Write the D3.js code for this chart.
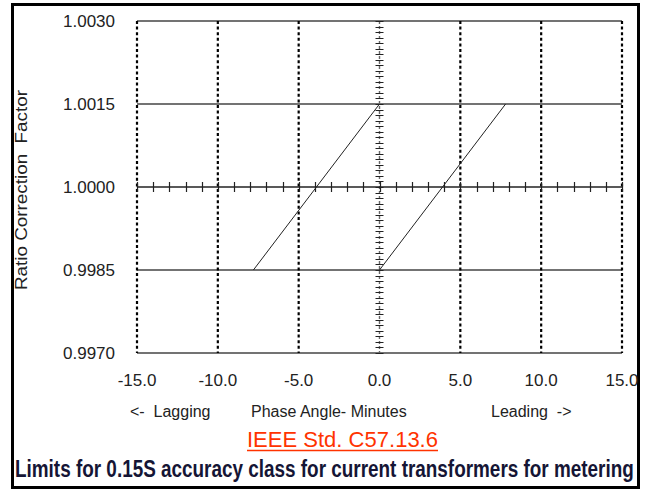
<!DOCTYPE html>
<html><head><meta charset="utf-8">
<script src="https://cdn.jsdelivr.net/npm/d3@7"></script>
<style>body{margin:0;background:#fff}svg{display:block}</style>
</head><body>
<svg id="c" width="647" height="490"></svg>
<script>
const xTickVals = [-15, -10, -5, 0, 5, 10, 15];
const xTickLabels = ["-15.0", "-10.0", "-5.0", "0.0", "5.0", "10.0", "15.0"];
const yTickVals = [0.9970, 0.9985, 1.0000, 1.0015, 1.0030];
const yTickLabels = ["0.9970", "0.9985", "1.0000", "1.0015", "1.0030"];
const limitLines = [
  [[-7.8, 0.9985], [0, 1.0015]],
  [[0, 0.9985], [7.8, 1.0015]]
];
const yTitle = "Ratio Correction  Factor";
const xLabels = ["<-  Lagging", "Phase Angle- Minutes", "Leading  ->"];
const subTitle = "IEEE Std. C57.13.6";
const title = "Limits for 0.15S accuracy class for current transformers for metering";

const svg = d3.select("#c");
const x = d3.scaleLinear().domain([-15, 15]).range([137, 622]);
const y = d3.scaleLinear().domain([0.997, 1.003]).range([353, 21]);
const font = "'Liberation Sans', Arial, sans-serif";

// frame
svg.append("rect").attr("x", 12.5).attr("y", 4.5).attr("width", 626).attr("height", 483)
  .attr("fill", "none").attr("stroke", "#000").attr("stroke-width", 3);

// horizontal solid lines (except 1.0000 axis)
svg.append("g").selectAll("line").data(yTickVals.filter(v => v !== 1.0))
  .join("line")
  .attr("x1", x(-15)).attr("x2", x(15))
  .attr("y1", d => y(d)).attr("y2", d => y(d))
  .attr("stroke", "#444").attr("stroke-width", 1.4);

// vertical dotted grid lines
svg.append("g").selectAll("line").data(xTickVals.filter(v => v !== 0))
  .join("line")
  .attr("x1", d => x(d)).attr("x2", d => x(d))
  .attr("y1", y(1.003)).attr("y2", y(0.997))
  .attr("stroke", "#000").attr("stroke-width", 2.2)
  .attr("stroke-dasharray", "3,2.6");

// center vertical axis (dotted gray)
svg.append("line")
  .attr("x1", x(0)).attr("x2", x(0)).attr("y1", y(1.003)).attr("y2", y(0.997))
  .attr("stroke", "#666").attr("stroke-width", 1.4).attr("stroke-dasharray", "3,2");

// y minor ticks on center axis
const yMinor = d3.range(0, 61).map(i => 0.997 + i * 0.0001);
svg.append("g").selectAll("line").data(yMinor).join("line")
  .attr("x1", x(0) - 4).attr("x2", x(0) + 4)
  .attr("y1", d => Math.round(y(d)) + 0.5).attr("y2", d => Math.round(y(d)) + 0.5)
  .attr("stroke", "#222").attr("stroke-width", 1);

// horizontal axis at 1.0000
svg.append("line")
  .attr("x1", x(-15)).attr("x2", x(15)).attr("y1", y(1.0)).attr("y2", y(1.0))
  .attr("stroke", "#222").attr("stroke-width", 1.6);
const xMinor = d3.range(-15, 16);
svg.append("g").selectAll("line").data(xMinor).join("line")
  .attr("x1", d => Math.round(x(d)) + 0.5).attr("x2", d => Math.round(x(d)) + 0.5)
  .attr("y1", y(1.0) - 5).attr("y2", y(1.0) + 5)
  .attr("stroke", "#222").attr("stroke-width", 1.2);

// limit lines
const line = d3.line().x(d => x(d[0])).y(d => y(d[1]));
svg.append("g").selectAll("path").data(limitLines).join("path")
  .attr("d", line).attr("fill", "none").attr("stroke", "#222").attr("stroke-width", 1);

// y tick labels
svg.append("g").selectAll("text").data(yTickVals).join("text")
  .attr("x", 115).attr("y", d => y(d)).attr("dy", "0.36em")
  .attr("text-anchor", "end").attr("font-family", font).attr("font-size", 17)
  .attr("fill", "#222").text((d, i) => yTickLabels[i]);

// x tick labels
svg.append("g").selectAll("text").data(xTickVals).join("text")
  .attr("x", d => x(d)).attr("y", 386)
  .attr("text-anchor", "middle").attr("font-family", font).attr("font-size", 17)
  .attr("fill", "#222").text((d, i) => xTickLabels[i]);

// y title
svg.append("text")
  .attr("transform", "translate(27,190) rotate(-90)")
  .attr("text-anchor", "middle").attr("font-family", font).attr("font-size", 16)
  .attr("fill", "#222").attr("xml:space", "preserve").style("white-space", "pre")
  .attr("textLength", 200).attr("lengthAdjust", "spacingAndGlyphs")
  .text(yTitle);

// x labels
const xLabelPos = [130, 251, 491];
svg.append("g").selectAll("text").data(xLabels).join("text")
  .attr("x", (d, i) => xLabelPos[i]).attr("y", 417)
  .attr("font-family", font).attr("font-size", 16).attr("fill", "#222")
  .attr("xml:space", "preserve").style("white-space", "pre")
  .text(d => d);

// subtitle (red, underlined)
svg.append("text")
  .attr("x", 342.5).attr("y", 447).attr("text-anchor", "middle")
  .attr("font-family", font).attr("font-size", 21.5).attr("fill", "#ff3300")
  .attr("textLength", 191).attr("lengthAdjust", "spacingAndGlyphs")
  .text(subTitle);
svg.append("line").attr("x1", 247).attr("x2", 438).attr("y1", 450.5).attr("y2", 450.5)
  .attr("stroke", "#ff3300").attr("stroke-width", 1.6);

// title: condensed bold, scaled horizontally to fit the frame
const t = svg.append("text")
  .attr("x", 0).attr("y", 0)
  .attr("font-family", font)
  .attr("font-weight", "bold").attr("font-size", 23).attr("fill", "#151535")
  .text(title);
const w = t.node().getComputedTextLength();
t.attr("transform", `translate(15,477) scale(${619 / w},1)`);
</script>
</body></html>
